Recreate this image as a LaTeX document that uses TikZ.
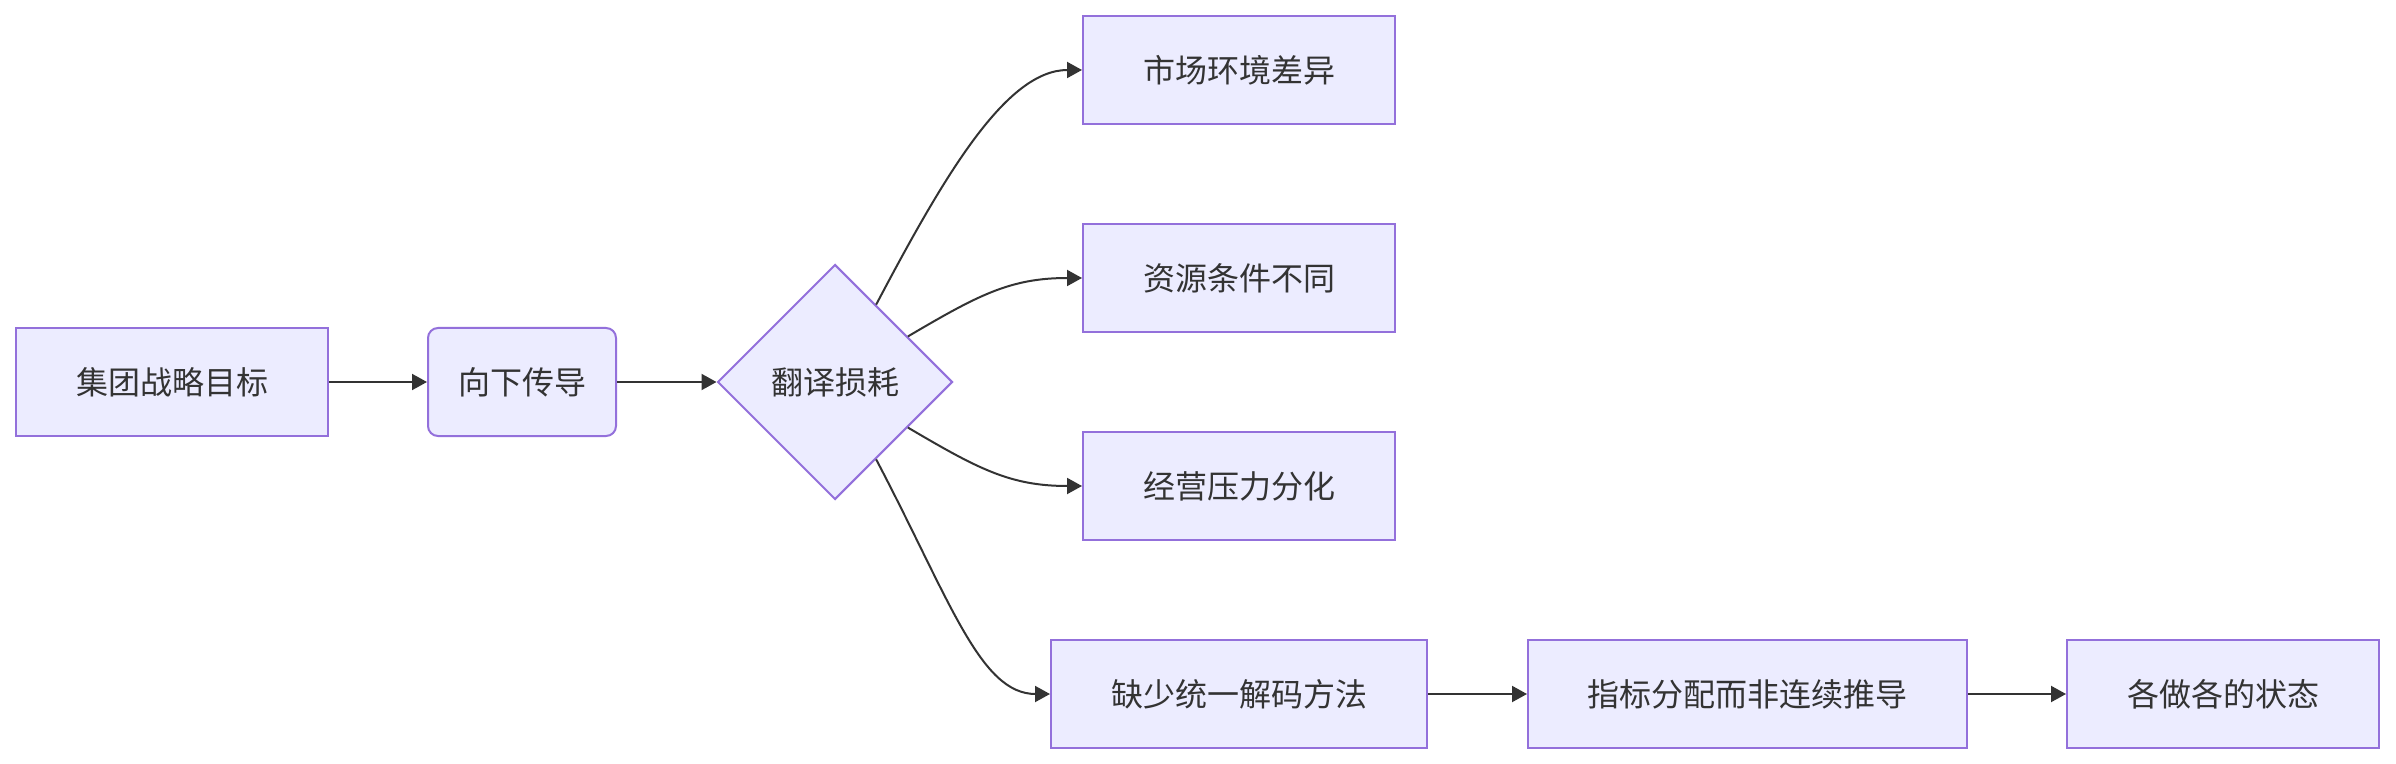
\documentclass[tikz,border=0pt]{standalone}
\usepackage{fontspec}
\newfontfamily\cjk{Noto Sans CJK SC}
\usetikzlibrary{shapes.geometric,arrows.meta}
\definecolor{nodefill}{HTML}{ECECFF}
\definecolor{nodeline}{HTML}{9370DB}
\definecolor{edgeline}{HTML}{333333}
\definecolor{txt}{HTML}{333333}
\begin{document}
\begin{tikzpicture}[x=1pt,y=-1pt,
  box/.style={draw=nodeline,fill=nodefill,line width=1pt,minimum height=54pt,
    inner sep=0pt,text=txt,font=\cjk\fontsize{16}{19}\selectfont},
  roundbox/.style={box,rounded corners=5pt},
  decision/.style={draw=nodeline,fill=nodefill,line width=1pt,shape=diamond,
    minimum width=117.5pt,minimum height=117.5pt,inner sep=0pt,text=txt,
    font=\cjk\fontsize{16}{19}\selectfont},
  link/.style={draw=edgeline,line width=1pt,-{Triangle[length=7.5pt,width=8pt]}}]
\useasboundingbox (0,0) rectangle (1198,382);
\node[box,minimum width=156pt] (A) at (86,191) {集团战略目标};
\node[roundbox,minimum width=94pt] (B) at (261,191) {向下传导};
\node[decision] (D) at (417.5,191) {翻译损耗};
\node[box,minimum width=156pt] (R1) at (619.5,35) {市场环境差异};
\node[box,minimum width=156pt] (R2) at (619.5,139) {资源条件不同};
\node[box,minimum width=156pt] (R3) at (619.5,243) {经营压力分化};
\node[box,minimum width=188pt] (R4) at (619.5,347) {缺少统一解码方法};
\node[box,minimum width=219.5pt] (R5) at (873.75,347) {指标分配而非连续推导};
\node[box,minimum width=156pt] (R6) at (1111.5,347) {各做各的状态};
\draw[link] (A) -- (B);
\draw[link] (B) -- (D);
\draw[link] (D.62) .. controls (472,88) and (503,35) .. (R1.west);
\draw[link] (D.32) .. controls (489,147.6) and (505,139) .. (R2.west);
\draw[link] (D.-32) .. controls (489,234.4) and (505,243) .. (R3.west);
\draw[link] (D.-62) .. controls (475,300) and (490,347) .. (R4.west);
\draw[link] (R4) -- (R5);
\draw[link] (R5) -- (R6);
\end{tikzpicture}
\end{document}
